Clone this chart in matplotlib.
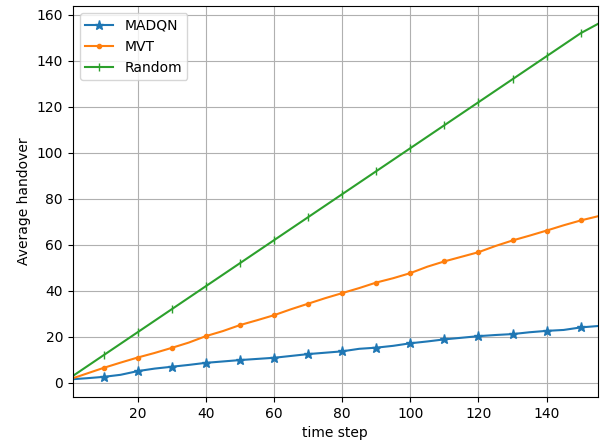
import numpy as np
import matplotlib
matplotlib.use('Agg')
import matplotlib.pyplot as plt

# time steps (sampled every 5 steps)
time_step = [1, 5, 10, 15, 20, 25, 30, 35, 40, 45, 50, 55, 60, 65, 70, 75,
             80, 85, 90, 95, 100, 105, 110, 115, 120, 125, 130, 135, 140, 145, 150, 155]

madqn = [1.6, 2.0, 2.6, 3.5, 5.1, 6.2, 7.0, 7.8, 8.7, 9.3, 9.9, 10.4, 10.9, 11.7, 12.5, 13.1,
         13.7, 14.8, 15.3, 16.1, 17.2, 18.0, 18.9, 19.6, 20.3, 20.8, 21.2, 22.0, 22.6, 23.0, 24.1, 24.7]

mvt = [2.0, 4.0, 6.5, 8.8, 11.0, 13.0, 15.2, 17.5, 20.3, 22.5, 25.1, 27.2, 29.4, 32.0, 34.4, 36.8,
       39.0, 41.2, 43.6, 45.5, 47.7, 50.5, 52.8, 54.8, 56.8, 59.5, 61.9, 64.0, 66.2, 68.5, 70.6, 72.4]

random_ho = [3, 7, 12, 17, 22, 27, 32, 37, 42, 47, 52, 57, 62, 67, 72, 77,
             82, 87, 92, 97, 102, 107, 112, 117, 122, 127, 132, 137, 142, 147, 152, 156]

# markers only on multiples of 10
marks = [i for i, t in enumerate(time_step) if t % 10 == 0]

fig = plt.figure(figsize=(6.02, 4.44), dpi=100)
ax = fig.add_subplot(111)
fig.subplots_adjust(left=0.121, right=0.993, top=0.986, bottom=0.106)

ax.plot(time_step, madqn, marker='*', markersize=6.5, markevery=marks, label='MADQN')
ax.plot(time_step, mvt, marker='.', markersize=6, markevery=marks, label='MVT')
ax.plot(time_step, random_ho, marker='|', markersize=6, markevery=marks, label='Random')

ax.set_xlim(1, 155)
ax.set_xlabel('time step')
ax.set_ylabel('Average handover')
ax.grid(True)
ax.legend(loc='upper left')

plt.savefig('out.png', dpi=100)
